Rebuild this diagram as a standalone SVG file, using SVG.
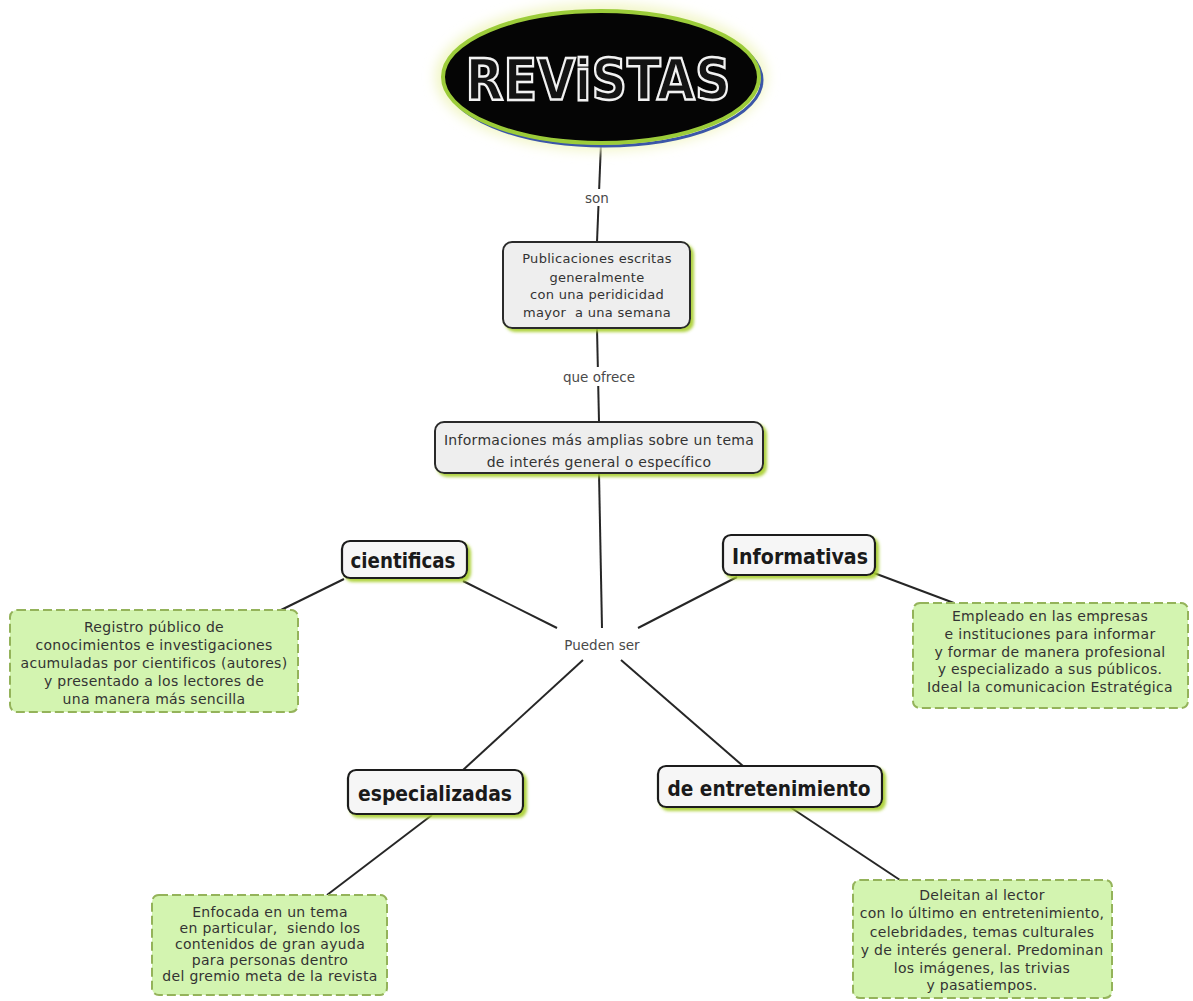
<svg xmlns="http://www.w3.org/2000/svg" width="1193" height="1001" viewBox="0 0 1193 1001">
  <style>
    .body { font-family: "DejaVu Sans", "Liberation Sans", sans-serif; font-size: 14px; letter-spacing: 0.3px; fill: #333333; text-anchor: middle; }
    .small { font-size: 13px; }
    .link { font-family: "DejaVu Sans", "Liberation Sans", sans-serif; font-size: 13.5px; fill: #4a4a4a; text-anchor: middle; }
    .tag { font-family: "DejaVu Sans Condensed", "DejaVu Sans", sans-serif; font-weight: bold; font-size: 22px; fill: #1a1a1a; text-anchor: middle; }
    .gray { fill: #eeeeee; stroke: #2b2b2b; stroke-width: 2; }
    .label { fill: #f6f6f6; stroke: #1e1e1e; stroke-width: 2.2; }
    .leaf { fill: #d3f4b0; stroke: #94b35a; stroke-width: 2; stroke-dasharray: 9 4; }
    .edge { stroke: #262626; stroke-width: 2; fill: none; }
  </style>
  <defs>
    <filter id="greenShadow" x="-10%" y="-20%" width="130%" height="160%">
      <feDropShadow dx="3" dy="3" stdDeviation="1.5" flood-color="#a8cf2e" flood-opacity="0.9"/>
    </filter>
    <filter id="glow" x="-20%" y="-30%" width="140%" height="160%">
      <feGaussianBlur stdDeviation="6"/>
    </filter>
  </defs>

  <rect width="1193" height="1001" fill="#ffffff"/>

  <!-- connectors -->
  <g id="connectors">
    <line class="edge" x1="601" y1="143" x2="597" y2="242"/>
    <line class="edge" x1="597" y1="328" x2="599" y2="422"/>
    <line class="edge" x1="599" y1="473" x2="602" y2="628"/>
    <line class="edge" x1="463" y1="581" x2="557" y2="628"/>
    <line class="edge" x1="737" y1="577" x2="638" y2="628"/>
    <line class="edge" x1="583" y1="660" x2="463" y2="770"/>
    <line class="edge" x1="621" y1="660" x2="743" y2="766"/>
    <line class="edge" x1="344" y1="579" x2="281" y2="610"/>
    <line class="edge" x1="874" y1="573" x2="954" y2="603"/>
    <line class="edge" x1="432" y1="815" x2="327" y2="895"/>
    <line class="edge" x1="790" y1="807" x2="900" y2="880"/>

    <rect x="578" y="189" width="38" height="17" fill="#ffffff"/>
    <text class="link" x="597" y="203">son</text>
    <rect x="558" y="367" width="82" height="19" fill="#ffffff"/>
    <text class="link" x="599" y="382">que ofrece</text>
    <rect x="558" y="635" width="88" height="19" fill="#ffffff"/>
    <text class="link" x="602" y="650">Pueden ser</text>
  </g>

  <!-- title -->
  <g id="revistas">
    <ellipse cx="601" cy="77" rx="166" ry="74" fill="#f2f6c8" filter="url(#glow)"/>
    <ellipse cx="604" cy="80" rx="158" ry="66" fill="none" stroke="#3b56a8" stroke-width="3"/>
    <ellipse cx="601" cy="77" rx="158" ry="66" fill="#050505" stroke="#9ccc3a" stroke-width="4"/>
    <text x="598" y="100" font-family="DejaVu Sans, Liberation Sans, sans-serif" font-weight="bold" font-size="57" fill="#141414" stroke="#f2f2f2" stroke-width="2.5" text-anchor="middle" textLength="265" lengthAdjust="spacingAndGlyphs">REViSTAS</text>
  </g>

  <g id="publicaciones">
    <rect class="gray" x="503" y="242" width="187" height="86" rx="9" filter="url(#greenShadow)"/>
    <text class="body small" x="597" y="263">Publicaciones escritas</text>
    <text class="body small" x="597" y="282">generalmente</text>
    <text class="body small" x="597" y="299">con una peridicidad</text>
    <text class="body small" x="597" y="317">mayor&#160; a una semana</text>
  </g>

  <g id="informaciones">
    <rect class="gray" x="435" y="422" width="328" height="51" rx="9" filter="url(#greenShadow)"/>
    <text class="body" x="599" y="445">Informaciones más amplias sobre un tema</text>
    <text class="body" x="599" y="467">de interés general o específico</text>
  </g>

  <g id="cientificas">
    <rect class="label" x="342" y="541" width="125" height="37" rx="8" filter="url(#greenShadow)"/>
    <text class="tag" x="403" y="568" textLength="105" lengthAdjust="spacingAndGlyphs">cientificas</text>
  </g>

  <g id="informativas">
    <rect class="label" x="723" y="535" width="152" height="40" rx="8" filter="url(#greenShadow)"/>
    <text class="tag" x="800" y="564" textLength="136" lengthAdjust="spacingAndGlyphs">Informativas</text>
  </g>

  <g id="especializadas">
    <rect class="label" x="348" y="770" width="175" height="44" rx="8" filter="url(#greenShadow)"/>
    <text class="tag" x="435" y="801" textLength="154" lengthAdjust="spacingAndGlyphs">especializadas</text>
  </g>

  <g id="entretenimiento">
    <rect class="label" x="658" y="766" width="224" height="41" rx="8" filter="url(#greenShadow)"/>
    <text class="tag" x="769" y="796" textLength="203" lengthAdjust="spacingAndGlyphs">de entretenimiento</text>
  </g>

  <g id="nota-cientificas">
    <rect class="leaf" x="10" y="610" width="288" height="102" rx="7"/>
    <text class="body" x="154" y="632">Registro público de</text>
    <text class="body" x="154" y="650">conocimientos e investigaciones</text>
    <text class="body" x="154" y="668">acumuladas por cientificos (autores)</text>
    <text class="body" x="154" y="686">y presentado a los lectores de</text>
    <text class="body" x="154" y="704">una manera más sencilla</text>
  </g>

  <g id="nota-informativas">
    <rect class="leaf" x="913" y="603" width="275" height="105" rx="7"/>
    <text class="body" x="1050" y="621">Empleado en las empresas</text>
    <text class="body" x="1050" y="639">e instituciones para informar</text>
    <text class="body" x="1050" y="657">y formar de manera profesional</text>
    <text class="body" x="1050" y="674">y especializado a sus públicos.</text>
    <text class="body" x="1050" y="692">Ideal la comunicacion Estratégica</text>
  </g>

  <g id="nota-especializadas">
    <rect class="leaf" x="152" y="895" width="235" height="100" rx="7"/>
    <text class="body" x="270" y="917">Enfocada en un tema</text>
    <text class="body" x="270" y="933">en particular,&#160; siendo los</text>
    <text class="body" x="270" y="949">contenidos de gran ayuda</text>
    <text class="body" x="270" y="965">para personas dentro</text>
    <text class="body" x="270" y="981">del gremio meta de la revista</text>
  </g>

  <g id="nota-entretenimiento">
    <rect class="leaf" x="853" y="880" width="259" height="118" rx="7"/>
    <text class="body" x="982" y="900">Deleitan al lector</text>
    <text class="body" x="982" y="918">con lo último en entretenimiento,</text>
    <text class="body" x="982" y="937">celebridades, temas culturales</text>
    <text class="body" x="982" y="955">y de interés general. Predominan</text>
    <text class="body" x="982" y="973">los imágenes, las trivias</text>
    <text class="body" x="982" y="990">y pasatiempos.</text>
  </g>
</svg>
